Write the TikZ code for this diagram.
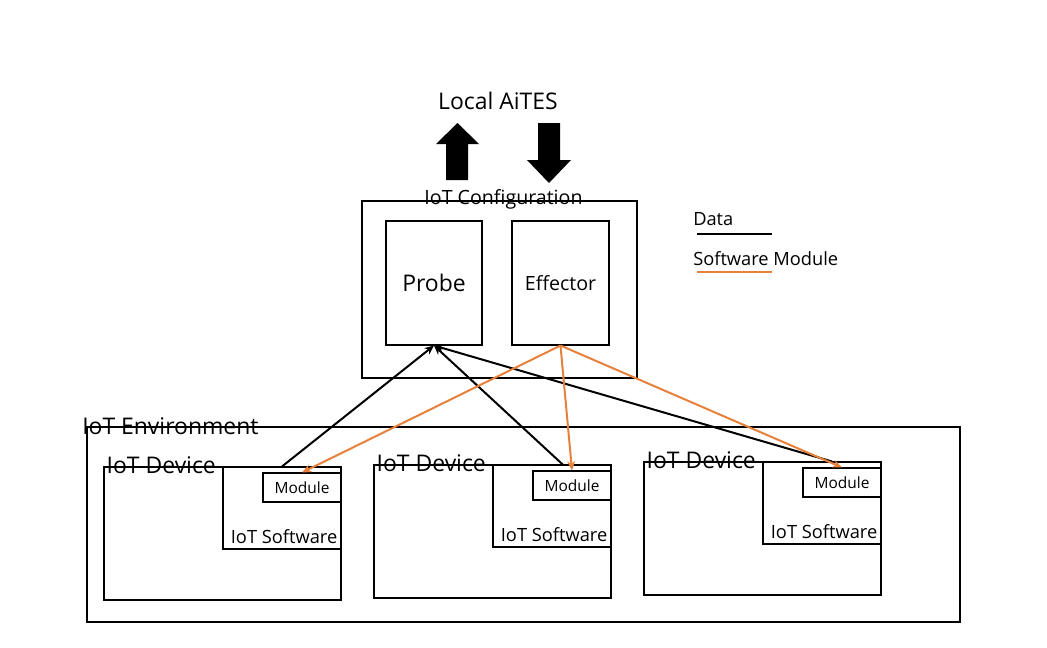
\documentclass[tikz,border=0pt]{standalone}
\usepackage{fontspec}
\setmainfont{Open Sans}
\usetikzlibrary{calc,arrows.meta}
\definecolor{swmodule}{RGB}{230,128,58}
\tikzset{
   box/.style={draw=black, line width=0.8pt, inner sep=0pt},
   plain/.style={inner sep=0pt},
   big text/.style={font=\fontsize{17.2pt}{20pt}\selectfont},
   mid text/.style={font=\fontsize{14.7pt}{18pt}\selectfont},
   small text/.style={font=\fontsize{13.7pt}{16pt}\selectfont},
   tiny text/.style={font=\fontsize{11.6pt}{14pt}\selectfont},
   data arrow/.style={draw=black, line width=1.5pt, -{Stealth[length=7pt,width=6pt]}},
   module arrow/.style={draw=swmodule, line width=1.5pt, -{Stealth[length=7pt,width=6pt]}}
}
\begin{document}
\begin{tikzpicture}[x=0.75pt,y=-0.75pt]
  \useasboundingbox (0,0) rectangle (1047,647);
  % local AiTES and the two block arrows
  \node[plain, big text, anchor=base] (aites) at (498,109) {Local AiTES};
  \fill (446,180) -- (446,144) -- (436,144) -- (457.5,123) -- (479,144) -- (468,144) -- (468,180) -- cycle;
  \fill (538,123) -- (560,123) -- (560,160) -- (571,160) -- (549,183) -- (527,160) -- (538,160) -- cycle;
  % IoT configuration
  \node[box, minimum width=206.25pt, minimum height=132.75pt] (config) at (499.5,289.5) {};
  \node[plain, mid text, anchor=base] (configtxt) at (503.5,204) {IoT Configuration};
  \node[box, big text, minimum width=72pt, minimum height=93pt] (probe) at (434,283) {Probe};
  \node[box, mid text, minimum width=72.75pt, minimum height=93pt] (effector) at (560.5,283) {Effector};
  % legend
  \node[plain, small text, anchor=base west] (datatxt) at (693,225) {Data};
  \node[plain, small text, anchor=base west] (swtxt) at (693,265) {Software Module};
  \draw[line width=1.5pt] ($(datatxt.base west)+(4,9)$) -- +(75,0);
  \draw[swmodule, line width=1.5pt] ($(swtxt.base west)+(4,7)$) -- +(75,0);
  % IoT environment with three devices
  \node[box, minimum width=654.75pt, minimum height=146.25pt] (env) at (523.5,524.5) {};
  \node[plain, big text, anchor=base west] (envtxt) at (82,434) {IoT Environment};
  \foreach \i/\dx/\dy in {1/0/0, 2/270/-2, 3/540/-5} {
    \node[box, minimum width=177.75pt, minimum height=99.75pt] (dev\i) at (222.5+\dx,533.5+\dy) {};
    \node[box, minimum width=88.5pt, minimum height=61.5pt] (sw\i) at (282+\dx,508+\dy) {};
    \node[box, tiny text, minimum width=58.5pt, minimum height=21.75pt] (mod\i) at (302+\dx,487.5+\dy) {Module};
    \node[plain, big text, anchor=base west] (devtxt\i) at ($(dev\i.north west)+(3,7)$) {IoT Device};
    \node[plain, small text, anchor=base east] (swtxt\i) at ($(sw\i.south east)+(-4,-6)$) {IoT Software};
  }
  % data and software module flows
  \path[data arrow] (sw1.north) -- (probe.south);
  \path[data arrow] ([xshift=8pt]sw2.north) -- (probe.south);
  \path[data arrow] ([xshift=7.5pt]sw3.north) -- (probe.south);
  \foreach \i in {1,2,3}
    \path[module arrow] (effector.south) -- (mod\i.north);
\end{tikzpicture}
\end{document}
